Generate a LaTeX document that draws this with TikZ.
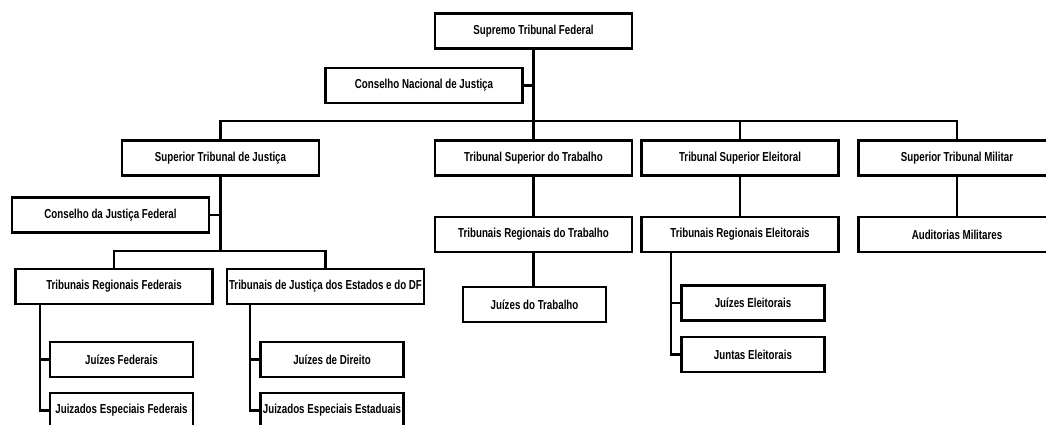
\documentclass[tikz,border=0pt]{standalone}
\usepackage{fontspec}
\setmainfont{Liberation Sans}[FakeStretch=0.75]
\usetikzlibrary{calc}

\begin{document}
\begin{tikzpicture}[x=1pt,y=-1pt,
    caixa/.style={draw,line width=2.8pt,minimum width=197pt,minimum height=35pt,
      inner sep=0pt,font=\fontsize{13}{15}\selectfont\bfseries},
    menor/.style={caixa,minimum width=143pt},
    liga/.style={line width=2.2pt}
  ]
  \useasboundingbox (0,0) rectangle (1046,425);
  \node [caixa] (stf) at (533.5,31) {Supremo Tribunal Federal};
  \node [caixa] (cnj) at (424,85.5) {Conselho Nacional de Justiça};
  \node [caixa] (stj) at (220.5,158) {Superior Tribunal de Justiça};
  \node [caixa] (tst) at (533.5,158) {Tribunal Superior do Trabalho};
  \node [caixa] (tse) at (740,158) {Tribunal Superior Eleitoral};
  \node [caixa] (stm) at (957,158) {Superior Tribunal Militar};
  \node [caixa] (cjf) at (110.5,215) {Conselho da Justiça Federal};
  \node [caixa] (trf) at (114,286.5) {Tribunais Regionais Federais};
  \node [caixa] (tj) at (325.5,286.5) {Tribunais de Justiça dos Estados e do DF};
  \node [menor] (jf) at (121.5,359.5) {Juízes Federais};
  \node [menor] (jef) at (121.5,410.5) {Juizados Especiais Federais};
  \node [menor] (jd) at (332,359.5) {Juízes de Direito};
  \node [menor] (jee) at (332,410.5) {Juizados Especiais Estaduais};
  \node [caixa] (trt) at (533.5,234.5) {Tribunais Regionais do Trabalho};
  \node [menor] (jt) at (534.5,304.5) {Juízes do Trabalho};
  \node [caixa] (tre) at (740,234.5) {Tribunais Regionais Eleitorais};
  \node [menor] (jel) at (753,303) {Juízes Eleitorais};
  \node [menor] (jun) at (753,354.5) {Juntas Eleitorais};
  \node [caixa] (aud) at (957,234.5) {Auditorias Militares};

  \coordinate (barra) at (533.5,121);
  \coordinate (barra2) at (220.5,251);
  \draw [liga] (stf) -- (tst);
  \draw [liga] (cnj.east) -- (cnj.east -| stf.south);
  \draw [liga] (stj.north) |- (barra) -| (stm.north);
  \draw [liga] (tse.north) -- (tse.north |- barra);
  \draw [liga] (stj.south) -- (barra2);
  \draw [liga] (trf.north) |- (barra2) -| (tj.north);
  \draw [liga] (cjf.east) -- (cjf.east -| stj.south);
  \draw [liga] (tst) -- (trt);
  \draw [liga] (trt.south) -- (trt.south |- jt.north);
  \draw [liga] (tse) -- (tre);
  \draw [liga] (stm) -- (aud);
  % ramos em cotovelo
  \foreach \pai/\a/\b in {trf/jf/jef, tj/jd/jee, tre/jel/jun} {
    \draw [liga] ($(\pai.south -| \a.west)+(-9,0)$) |- (\b.west)
      ($(\a.west)+(-9,0)$) -- (\a.west);
  }
\end{tikzpicture}
\end{document}
